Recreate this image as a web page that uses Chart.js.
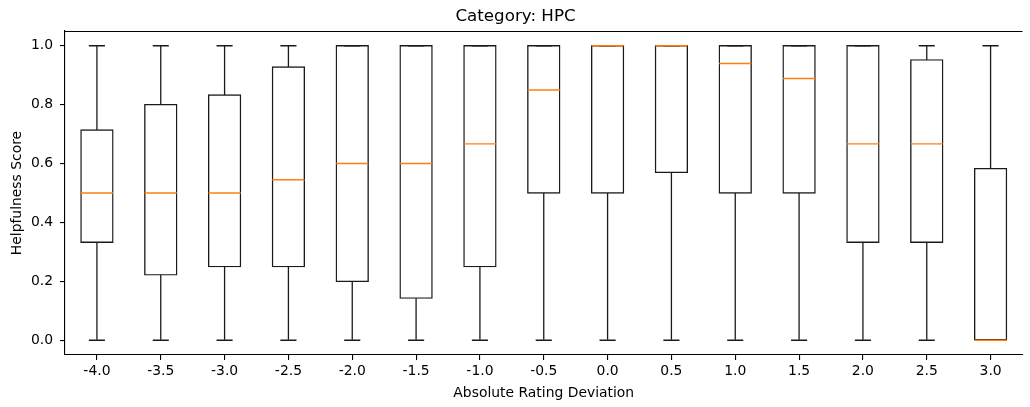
<!DOCTYPE html>
<html>
<head>
<meta charset="utf-8">
<script src="https://cdn.jsdelivr.net/npm/chart.js@4/dist/chart.umd.min.js"></script>
<style>
  html, body { margin: 0; padding: 0; background: #fff; }
  #wrap { width: 1030px; height: 407px; overflow: hidden; position: relative; }
  #box { position: absolute; left: 0; top: 0; width: 1040px; height: 407px; }
</style>
</head>
<body>
<div id="wrap"><div id="box"><canvas id="chart"></canvas></div></div>
<script>
// rating deviation buckets
const labels = ['-4.0', '-3.5', '-3.0', '-2.5', '-2.0', '-1.5', '-1.0', '-0.5',
                '0.0', '0.5', '1.0', '1.5', '2.0', '2.5', '3.0'];

// box plot statistics per bucket
const whiskerLow  = [0, 0, 0, 0, 0, 0, 0, 0, 0, 0, 0, 0, 0, 0, 0];
const q1          = [0.333, 0.222, 0.25, 0.25, 0.2, 0.143, 0.25, 0.5, 0.5, 0.57, 0.5, 0.5, 0.333, 0.333, 0];
const median      = [0.5, 0.5, 0.5, 0.545, 0.6, 0.6, 0.667, 0.85, 1.0, 1.0, 0.94, 0.889, 0.667, 0.667, 0];
const q3          = [0.714, 0.8, 0.833, 0.928, 1, 1, 1, 1, 1, 1, 1, 1, 1, 0.952, 0.583];
const whiskerHigh = [1, 1, 1, 1, 1, 1, 1, 1, 1, 1, 1, 1, 1, 1, 1];

const yTicks = [0, 0.2, 0.4, 0.6, 0.8, 1.0];

const FONT = 'DejaVu Sans';
const LW = 1.4;
const INK = '#1a1a1a';

// top spine (right spine falls outside the canvas)
const frame = {
    id: 'frame',
    afterDatasetsDraw(chart) {
        const { ctx, chartArea: a } = chart;
        ctx.save();
        ctx.strokeStyle = '#000';
        ctx.lineWidth = 1.1;
        ctx.beginPath();
        ctx.moveTo(a.left, a.top + 0.5);
        ctx.lineTo(a.right, a.top + 0.5);
        ctx.stroke();
        ctx.restore();
    }
};

new Chart(document.getElementById('chart'), {
    type: 'bar',
    data: {
        labels: labels,
        datasets: [
            {
                type: 'line', label: 'median', data: median, order: 0,
                showLine: false, pointStyle: 'line', pointRadius: 16.1,
                borderColor: '#ff7f0e', borderWidth: LW
            },
            {
                type: 'line', label: 'capHigh', data: whiskerHigh, order: 1,
                showLine: false, pointStyle: 'line', pointRadius: 8.05,
                borderColor: INK, borderWidth: LW
            },
            {
                type: 'line', label: 'capLow', data: whiskerLow, order: 1,
                showLine: false, pointStyle: 'line', pointRadius: 8.05,
                borderColor: INK, borderWidth: LW
            },
            {
                label: 'box', data: q1.map((v, i) => [v, q3[i]]), order: 2,
                grouped: false, barPercentage: 0.5, categoryPercentage: 1.0,
                backgroundColor: '#fff', borderColor: INK, borderWidth: LW,
                borderSkipped: false, inflateAmount: LW / 2
            },
            {
                label: 'whiskerUp', data: q3.map((v, i) => [v, whiskerHigh[i]]), order: 3,
                grouped: false, barThickness: 1.3, inflateAmount: 0,
                backgroundColor: INK, borderWidth: 0
            },
            {
                label: 'whiskerDown', data: whiskerLow.map((v, i) => [v, q1[i]]), order: 3,
                grouped: false, barThickness: 1.3, inflateAmount: 0,
                backgroundColor: INK, borderWidth: 0
            }
        ]
    },
    options: {
        responsive: true,
        maintainAspectRatio: false,
        animation: false,
        events: [],
        layout: { padding: { left: 0, right: 9, top: 0, bottom: 0 } },
        plugins: {
            legend: { display: false },
            tooltip: { enabled: false },
            title: {
                display: true,
                text: 'Category: HPC',
                color: '#000',
                font: { family: FONT, size: 16.7, weight: 'normal' },
                padding: { top: 6.7, bottom: 4.3 }
            }
        },
        scales: {
            x: {
                offset: true,
                grid: {
                    offset: false, drawOnChartArea: false, drawTicks: true,
                    tickLength: 5, color: '#000', lineWidth: 1.1
                },
                border: { display: true, color: '#000', width: 1.1 },
                ticks: {
                    color: '#000', padding: 3, maxRotation: 0, autoSkip: false,
                    font: { family: FONT, size: 13.9 }
                },
                title: {
                    display: true, text: 'Absolute Rating Deviation', color: '#000',
                    font: { family: FONT, size: 13.9 },
                    padding: { top: 0, bottom: 5 }
                },
                afterFit: s => { s.height = 52; }
            },
            y: {
                min: -0.05,
                max: 1.05,
                afterBuildTicks: s => { s.ticks = yTicks.map(v => ({ value: v })); },
                grid: {
                    drawOnChartArea: false, drawTicks: true,
                    tickLength: 5, color: '#000', lineWidth: 1.1
                },
                border: { display: true, color: '#000', width: 1.1 },
                ticks: {
                    color: '#000', padding: 7,
                    font: { family: FONT, size: 13.9 },
                    callback: v => Number(v).toFixed(1)
                },
                title: {
                    display: true, text: 'Helpfulness Score', color: '#000',
                    font: { family: FONT, size: 13.9 },
                    padding: { top: 9, bottom: 0 }
                },
                afterFit: s => { s.width = 65; }
            }
        }
    },
    plugins: [frame]
});
</script>
</body>
</html>
